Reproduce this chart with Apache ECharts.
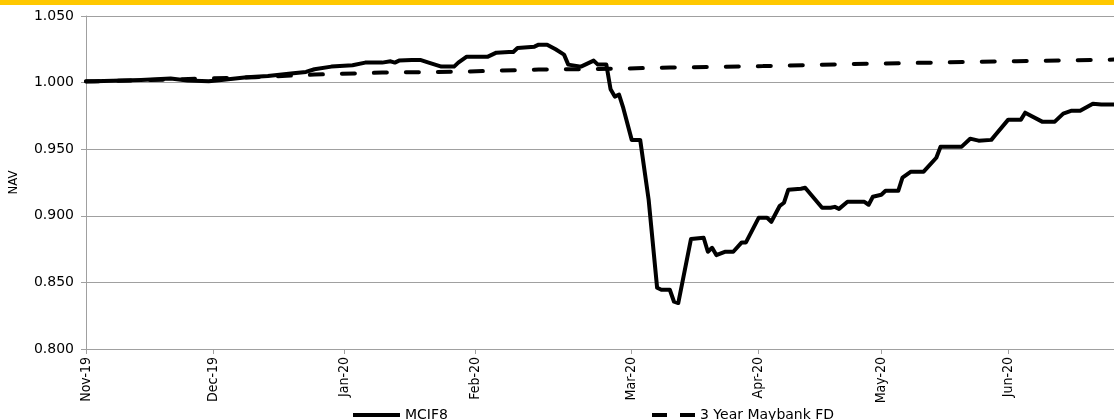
<!DOCTYPE html>
<html>
<head>
<meta charset="utf-8">
<title>MCIF8 NAV</title>
<script src="https://cdn.jsdelivr.net/npm/echarts@6/dist/echarts.min.js"></script>
<style>
  html, body { margin: 0; padding: 0; background: #fff; }
  #chart { width: 1114px; height: 420px; }
</style>
</head>
<body>
<div id="chart"></div>
<script>
// x is a day index from the start of the chart (Nov-19 = 0)
const tickDays = [0, 30, 61, 92, 129, 159, 188, 218]
const tickLabels = ['Nov-19', 'Dec-19', 'Jan-20', 'Feb-20', 'Mar-20', 'Apr-20', 'May-20', 'Jun-20']
const xMax = 243

// MCIF8 NAV
const mcifDays = [
  0, 2, 13, 20, 24, 29, 32, 38, 43, 49, 52, 54, 58, 63, 66, 70, 72, 73, 74, 77,
  79, 81, 84, 87, 88, 90, 95, 97, 100, 101, 102, 106, 107, 109, 111, 113, 114, 117, 118, 120,
  121, 123, 124, 125, 126, 127, 129, 131, 133, 135, 136, 138, 139, 140, 143, 146, 147, 148, 149, 151,
  153, 155, 156, 159, 161, 162, 164, 165, 166, 169, 170, 174, 176, 177, 178, 180, 184, 185, 186, 188,
  189, 192, 193, 195, 198, 201, 202, 207, 209, 211, 214, 215, 218, 221, 222, 226, 229, 231, 233, 235,
  238, 240, 243
]
const mcifNav = [
  1.001, 1.001, 1.002, 1.003, 1.0015, 1.001, 1.002, 1.004, 1.005, 1.007, 1.008, 1.010, 1.012, 1.013, 1.015, 1.015, 1.016, 1.015, 1.0165, 1.017,
  1.017, 1.015, 1.012, 1.012, 1.015, 1.0195, 1.0195, 1.0225, 1.023, 1.023, 1.026, 1.027, 1.0285, 1.0285, 1.025, 1.021, 1.0135, 1.012, 1.0135, 1.0165,
  1.0135, 1.0135, 0.995, 0.9895, 0.991, 0.981, 0.957, 0.957, 0.912, 0.846, 0.8445, 0.8445, 0.8355, 0.8345, 0.8825, 0.8835, 0.873, 0.876, 0.8705, 0.873,
  0.873, 0.880, 0.880, 0.8985, 0.8985, 0.8955, 0.9075, 0.9098, 0.9195, 0.9203, 0.921, 0.906, 0.906, 0.9067, 0.9052, 0.9105, 0.9105, 0.9083, 0.9143, 0.9158,
  0.9188, 0.9188, 0.9286, 0.9331, 0.9331, 0.9436, 0.9519, 0.9519, 0.9579, 0.9564, 0.957, 0.9609, 0.9722, 0.9722, 0.9774, 0.9707, 0.9707, 0.9767, 0.9789, 0.9789,
  0.9842, 0.9835, 0.9835
]

// 3 Year Maybank FD
const fdDays = [0, 20, 40, 54, 70, 90, 107, 120, 138, 160, 180, 200, 220, 243]
const fdNav = [1.0008, 1.0023, 1.0041, 1.006, 1.0075, 1.0083, 1.0098, 1.0101, 1.0113, 1.0124, 1.0139, 1.015, 1.0161, 1.0173]

const gridColor = '#a0a0a0'
const narrowFont = 'Liberation Sans Narrow, DejaVu Sans Condensed, sans-serif'

// legend icons: a solid bar and two dashes
const solidIcon = 'path://M0,0h47v4h-47z'
const dashIcon = 'path://M0,0h15v4h-15zM28,0h15v4h-15z'

const chart = echarts.init(document.getElementById('chart'))

chart.setOption({
  animation: false,
  backgroundColor: '#fff',
  graphic: [
    {
      type: 'rect',
      left: 0,
      top: 0,
      shape: { width: 1114, height: 5 },
      style: { fill: '#ffc800' }
    }
  ],
  grid: {
    left: 86,
    right: 0,
    top: 16,
    bottom: 71,
    outerBoundsMode: 'none'
  },
  legend: [
    {
      data: [{ name: 'MCIF8', icon: solidIcon }],
      left: 348,
      top: 403,
      itemWidth: 47,
      itemHeight: 4,
      textStyle: { fontFamily: 'DejaVu Sans', fontSize: 14, color: '#000' }
    },
    {
      data: [{ name: '3 Year Maybank FD', icon: dashIcon }],
      left: 647,
      top: 403,
      itemWidth: 43,
      itemHeight: 4,
      textStyle: { fontFamily: 'DejaVu Sans', fontSize: 14, color: '#000' }
    }
  ],
  xAxis: {
    type: 'value',
    min: 0,
    max: xMax,
    splitLine: { show: false },
    axisLine: { lineStyle: { color: gridColor, width: 1 } },
    axisTick: {
      show: true,
      length: 5,
      customValues: tickDays,
      lineStyle: { color: gridColor }
    },
    axisLabel: {
      customValues: tickDays,
      rotate: 90,
      margin: 8,
      fontFamily: narrowFont,
      fontSize: 14,
      color: '#000',
      formatter: (value) => {
        const i = tickDays.indexOf(value)
        return i >= 0 ? tickLabels[i] : ''
      }
    }
  },
  yAxis: {
    type: 'value',
    name: 'NAV',
    nameLocation: 'middle',
    nameGap: 66,
    nameRotate: 90,
    nameTextStyle: { fontFamily: narrowFont, fontSize: 13, color: '#000' },
    min: 0.8,
    max: 1.05,
    interval: 0.05,
    axisLine: { show: true, lineStyle: { color: gridColor, width: 1 } },
    axisTick: { show: true, length: 5, lineStyle: { color: gridColor } },
    axisLabel: {
      margin: 12,
      fontFamily: 'DejaVu Sans',
      fontSize: 14,
      color: '#000',
      formatter: (value) => value.toFixed(3)
    },
    splitLine: { lineStyle: { color: gridColor, width: 1 } }
  },
  series: [
    {
      name: 'MCIF8',
      type: 'line',
      data: mcifDays.map((d, i) => [d, mcifNav[i]]),
      symbol: 'none',
      lineStyle: { color: '#000', width: 4, join: 'round', cap: 'round' },
      itemStyle: { color: '#000' },
      z: 3
    },
    {
      name: '3 Year Maybank FD',
      type: 'line',
      data: fdDays.map((d, i) => [d, fdNav[i]]),
      symbol: 'none',
      lineStyle: { color: '#000', width: 4, type: [13, 19], cap: 'round' },
      itemStyle: { color: '#000' },
      z: 2
    }
  ]
})
</script>
</body>
</html>
